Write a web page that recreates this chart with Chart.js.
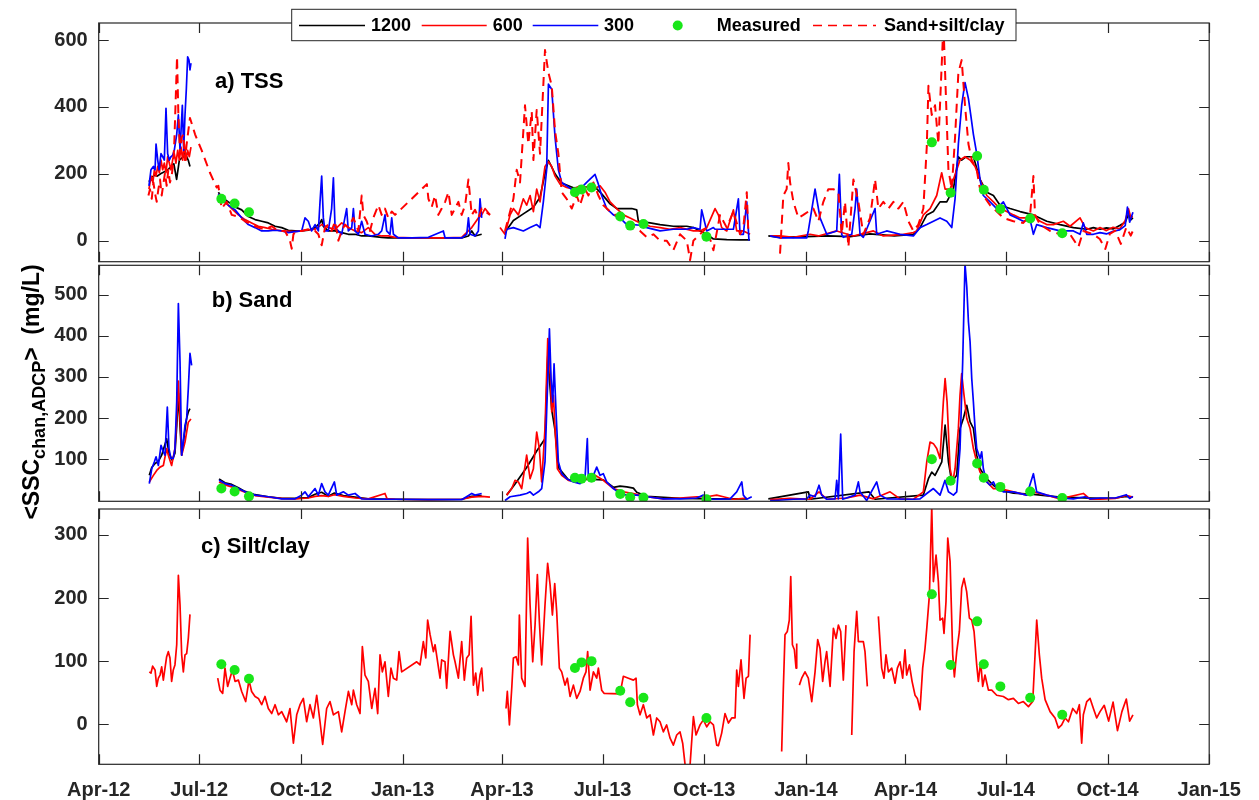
<!DOCTYPE html>
<html>
<head>
<meta charset="utf-8">
<script src="https://cdn.jsdelivr.net/npm/chart.js@4.4.0/dist/chart.umd.min.js"></script>
<style>
  html, body { margin: 0; padding: 0; background: #fff; }
  #wrap { position: relative; width: 1259px; height: 800px; }
  #wrap canvas { position: absolute; left: 0; top: 0; }
</style>
</head>
<body>
<div id="wrap">
  <canvas id="cA" width="1259" height="800"></canvas>
  <canvas id="cB" width="1259" height="800"></canvas>
  <canvas id="cC" width="1259" height="800"></canvas>
</div>
<script>
// ─── Config ───────────────────────────────────────────────────────────────────

const W = 1259;
const H = 800;
const PLOT_LEFT  = 98.7;
const PLOT_RIGHT = 1209.2;
const FONT       = "'Liberation Sans', Arial, sans-serif";
const AXIS_COLOR = "#262626";
const TICK_LEN   = 10;

const C_1200 = "#000000";
const C_600  = "#ff0000";
const C_300  = "#0000ff";
const C_MEAS = "#19e619";

// ─── Data (x = days since 1 Apr 2012, null = no data) ────────────────────────

const xTickDays   = [0, 91, 183, 275, 365, 456, 548, 640, 730, 821, 913, 1005];
const xTickLabels = ["Apr-12", "Jul-12", "Oct-12", "Jan-13", "Apr-13", "Jul-13",
                     "Oct-13", "Jan-14", "Apr-14", "Jul-14", "Oct-14", "Jan-15"];

const legendLabels = ["1200", "600", "300", "Measured", "Sand+silt/clay"];

const measuredDays = [111, 123, 136, 431, 437, 446, 472, 481, 493, 550, 754, 771, 795, 801, 816, 843, 872];
const measuredTss  = [125, 111, 85, 145, 153, 159, 72, 45, 50, 12, 294, 143, 253, 152, 95, 66, 22];
const measuredSand = [29, 22, 10, 55, 53, 55, 16, 8, 7, 3, 100, 48, 90, 55, 33, 22, 6];
const measuredSilt = [95, 86, 72, 89, 98, 100, 53, 35, 42, 10, 206, 94, 163, 95, 60, 42, 15];

const tss1200 = [
  [45.5,176],[48,190],[51,196],[53,193],[56,200],[59,205],[62,210],[65,220],[68,230],[70.5,183],[73,241],
  [76.6,251],[78,270],[79.5,251],[81,241],[82.6,222],
  [95,null],
  [108.3,145],[111.3,130],[117.3,116],[123.4,101],[129.4,92],[135.4,72],[141.5,63],[147.5,58],[153.5,53],
  [159.6,43],[165.6,39],[171.6,31],[177.7,29],[183.7,29],[189.7,31],[195.8,39],[200.3,53],[201.8,63],
  [203.3,43],[207.8,29],[213.9,29],[219.9,24],[225.9,19],[232,19],[238,14],[244,14],[250,12],[256,10],
  [262,8],[280,8],[298,8],[316,8],[328.5,8],[334.6,14],[337.6,29],[340.6,14],[346.6,19],
  [355,null],
  [367.7,25],[375.3,60],[384.3,80],[393.4,100],[399.4,130],[403.9,200],[407,240],[413,200],[419,172],
  [429.6,158],[441.6,160],[449.2,160],[455.2,140],[462.8,110],[468.8,96],[474.8,96],[482.4,96],[486.9,92],
  [488.4,58],[499,53],[508,48],[520,43],[532.2,43],[538.2,39],[544.2,29],[550.3,19],[556.3,5],[568.4,3],
  [580.4,2],[589.5,2],
  [598,null],
  [606,14],[616.6,10],[640,12],[660,14],[680,12],[698,20],[720,14],[737.3,19],[743.3,39],[749.4,77],
  [755.4,87],[761.4,116],[767.5,116],[773.5,154],[778,251],[781,241],[785,251],[791.6,251],[797.6,183],
  [803.7,145],[809.7,135],[815.7,106],[824.8,96],[833.8,87],[845.9,77],[858,58],[870,48],[882.1,39],
  [894.2,34],[900.2,39],[906.2,34],[912,38],[918,35],[924,45],[929,55],[932,80],[934,62],[936,68],
];

const tss600 = [
  [45.5,154],[47.4,193],[49,174],[50.4,212],[51.9,193],[53.4,222],[54.9,203],[56.4,241],[57.9,212],
  [59.4,232],[60.9,203],[62.4,251],[63.9,232],[65.4,212],[66.9,241],[68.4,260],[69.9,232],[71.5,270],
  [73,241],[74.5,280],[76,241],[77.5,289],[79,241],[80.5,270],[82,251],[83.5,280],
  [95,null],
  [108.3,140],[114.3,116],[120.4,96],[126.4,77],[132.4,63],[138.4,53],[144.5,43],[150.5,39],[156.6,34],
  [165.6,29],[177.7,27],[186.7,31],[195.8,34],[201.8,48],[207.8,39],[213.9,34],[219.9,53],[225.9,39],
  [232,29],[238,24],[244,39],[250,19],[256.1,14],[262.1,14],[268.2,10],[283.3,8],[298.4,8],[313.5,8],
  [328.5,10],[337.6,39],[343.6,68],[346.6,77],[349.6,96],[354.1,77],
  [358,null],
  [363.2,39],[367.7,19],[372.3,77],[375.3,96],[379.8,77],[384.3,125],[387.3,106],[390.4,135],[393.4,87],
  [396.4,154],[399.4,116],[403.9,222],[407,236],[410,222],[413,193],[417.5,169],[423.5,159],[429.6,154],
  [435.6,164],[441.6,159],[447.7,154],[453.7,164],[458.2,145],[462.8,116],[468.8,96],[474.8,77],
  [480.9,68],[489.9,53],[499,43],[508,39],[517,34],[526.1,39],[538.2,29],[544.2,29],[550.3,39],
  [557.8,96],[560.8,77],[563.8,39],[568.4,29],[574.4,92],[577.4,29],[583.4,29],[589.5,19],
  [598,null],
  [607.6,14],[616.6,14],[628.7,10],[643.8,19],[651.3,14],[667.9,29],[683,14],[701.1,29],[710.1,14],
  [728.2,19],[737.3,24],[740.3,29],[746.3,77],[752.4,96],[758.4,135],[762.9,203],[766,154],[770.5,154],
  [776.5,212],[779.5,241],[784,251],[788.6,241],[793.1,222],[797.6,183],[803.7,135],[809.7,116],
  [815.7,96],[821.8,87],[827.8,77],[833.8,68],[839.9,68],[845.9,77],[851.9,58],[858,48],[864,48],
  [873,58],[879.1,43],[888.1,68],[892.7,39],[900.2,29],[906.2,39],[912,30],[918,40],[924,35],[929,60],
  [932,95],[934,70],[936,72],
];

const tss300 = [
  [45.5,164],[47.3,212],[49.5,222],[51,212],[51.9,289],[53.4,241],[54.6,212],[56.4,260],[57.9,251],
  [59.4,241],[60.9,396],[62.4,260],[63.9,241],[65.4,251],[66.9,255],[68.4,270],[70.6,318],[72.1,376],
  [73.6,270],[74.5,328],[75.7,405],[76.9,270],[78.1,376],[79.3,453],[80.5,550],[81.7,540],[82.6,511],
  [83.5,531],
  [95,null],
  [108.3,140],[111.3,125],[117.3,106],[123.4,92],[129.4,68],[135.4,48],[141.5,39],[147.5,29],[153.5,29],
  [159.6,31],[165.6,29],[171.6,24],[177.7,27],[183.7,29],[186.7,68],[189.7,58],[192.7,29],[195.8,48],
  [198.8,29],[200.3,116],[201.8,193],[203.3,68],[204.8,29],[207.8,29],[210.8,96],[212.4,188],[213.9,39],
  [216.9,29],[219.9,19],[224.4,96],[225.9,29],[229,39],[230.5,96],[232,29],[235,19],[238,58],[241,19],
  [247,14],[253,19],[256.1,29],[259.1,77],[260.6,29],[263.6,19],[265.2,68],[266.7,19],[271.2,8],
  [283.3,8],[298.4,10],[311.9,29],[313.5,8],[328.5,8],[333.1,19],[334.6,68],[336.1,19],[340.6,14],
  [343.6,29],[345.1,125],[346.6,68],
  [355,null],
  [367.7,5],[369.2,34],[375.3,39],[384.3,29],[390.4,39],[396.4,48],[399.4,39],[402.4,116],[405.4,212],
  [407,468],[410,453],[413,309],[416,212],[419,174],[423.5,164],[429.6,150],[435.6,154],[441.6,174],
  [449.2,198],[452.2,169],[455.2,135],[459.7,96],[465.8,77],[471.8,68],[477.9,48],[483.9,48],[489.9,46],
  [496,39],[508,29],[520,34],[532.2,34],[538.2,39],[544.2,34],[545.7,92],[550.3,29],[556.3,39],
  [557.8,34],[574.4,34],[578.9,125],[580.4,19],[583.4,19],[586.5,116],[588.5,0],
  [598,null],
  [607.6,14],[616.6,8],[640.7,8],[642.2,29],[648.3,154],[652.8,68],[658.9,19],[667.9,29],[670.3,198],
  [672.4,19],[673.9,10],[681.5,19],[684.5,96],[686,154],[689,19],[692,10],[702.6,96],[704.1,19],
  [713.1,29],[725.2,19],[737.3,14],[743.3,39],[749.4,48],[755.4,58],[761.4,68],[767.5,58],[772,39],
  [775,125],[778,289],[781,405],[783.1,453],[784,473],[787.1,425],[789.2,376],[791.6,318],[794.6,260],
  [797.6,183],[800.6,135],[806.7,116],[812.7,96],[818.7,116],[824.8,77],[830.8,68],[836.8,58],
  [842.9,63],[845.9,19],[848.9,48],[858,39],[870,29],[882.1,29],[888.1,19],[891.1,53],[894.2,19],
  [900.2,19],[906.2,24],[912,20],[918,28],[924,32],[929,45],[931,100],[933,55],[936,85],
];

const tssSum = [
  [45,135],[46.4,154],[48,125],[49.5,174],[51,141],[52.5,116],[54,154],[55.5,183],[57,135],[58.5,169],
  [60,203],[61.5,164],[63,212],[64.5,174],[66,193],[67.5,232],[68.5,300],[70.9,550],[72.1,376],
  [73.6,260],[75.1,309],[76.6,318],[78.1,241],[79.6,289],[81.1,328],[82.6,367],[87.2,318],[93.2,270],
  [100.7,203],[106.8,159],
  [108.3,164],[111.3,96],[115.8,116],[120.4,77],[126.4,72],[132.4,58],[138.4,48],[144.5,39],[150.5,34],
  [156.6,43],[162.6,29],[168.6,29],[173.1,0],[174.7,-24],[176.2,19],[179.2,29],[183.7,29],[189.7,34],
  [195.8,29],[198.8,19],[201.8,-14],[204.8,39],[207.8,48],[210.8,29],[213.9,58],[216.9,0],[219.9,29],
  [222.9,48],[225.9,39],[230.5,68],[235,29],[238,135],[239.5,77],[242.5,58],[245.5,29],[248.5,68],
  [253.1,106],[256.1,77],[259.1,96],[262.1,68],[265.2,87],[268.2,77],[297,169],[298.4,125],[301.4,101],
  [304.4,135],[307.4,77],[310.4,96],[313.5,116],[316.5,145],[319.5,77],[322.5,96],[325.5,116],[328.5,77],
  [331.6,106],[334.6,183],[337.6,77],[340.6,92],[343.6,68],[346.6,96],[354.1,77],
  [358,null],
  [367.7,29],[372.3,87],[375.3,125],[378.3,212],[381.3,174],[385.8,405],[388.8,289],[391.9,386],
  [393.4,241],[396.4,391],[399.4,260],[403.9,570],[407,502],[410,463],[413,328],[416,260],[419,145],
  [423.5,125],[428.1,96],[432.6,135],[435.6,106],[440.1,154],[443.2,135],[447.7,174],[452.2,135],
  [456.7,106],[462.8,87],[471.8,68],[480.9,48],[489.9,29],[496,10],[502,19],[508,0],[514,0],[520,-29],
  [526.1,19],[532.2,0],[535.2,-58],[538.2,0],[544.2,19],[550.3,39],[556.3,-29],[562.3,77],[568.4,39],
  [574.4,87],[580.4,19],[583.4,39],[586.5,145],[588,19],
  [600,null],
  [616.6,-39],[619.6,135],[622.6,154],[624.1,232],[625.7,174],[628.7,116],[633.2,68],[637.7,77],
  [642.2,87],[646.8,96],[651.3,58],[655.8,116],[660.3,154],[664.9,154],[669.4,145],[672.4,19],
  [675.4,116],[678.5,-19],[683,183],[687.5,116],[692,19],[698.1,68],[702.6,183],[705.6,96],[710.1,116],
  [714.7,96],[719.2,116],[723.7,96],[728.2,116],[732.8,58],[737.3,29],[741.8,48],[746.3,96],[749.4,280],
  [750.9,463],[753.9,376],[756.9,405],[759.9,289],[764.5,650],[767,405],[769,212],[772,154],[775,309],
  [778,502],[781,540],[784,405],[787.1,289],[790.1,241],[794.6,212],[797.6,154],[800.6,135],[806.7,106],
  [812.7,87],[818.7,68],[827.8,58],[836.8,53],[842.9,77],[845.9,193],[847.4,77],[851.9,48],[861,29],
  [870,19],[879.1,19],[886.6,-19],[891.1,29],[900.2,19],[906,5],[911,-25],[915,20],[920,30],[925,-10],
  [930,40],[934,15],[936,30],
];

const sand1200 = [
  [45.8,61],[48,80],[51,90],[54,95],[57,110],[61.5,150],[63.6,115],[66.5,98],[69,115],[70.6,180],
  [72.1,260],[73.6,180],[75.1,110],[77.5,160],[79.6,200],[81.1,215],[82.6,223],
  [95,null],
  [108.9,52],[114.3,43],[120.4,39],[126.4,31],[132.4,22],[141.5,14],[153.5,9],[165.6,5],[177.7,5],
  [189.7,7],[195.8,15],[201.8,20],[207.8,10],[213.3,18],[221.4,12],[232,8],[244,4],[268.2,3],[298.4,2],
  [328.5,3],[337.6,10],[346.6,12],
  [355,null],
  [369.2,13],[376.8,40],[387.3,80],[396.4,120],[403.9,150],[406.4,350],[410,220],[413,170],[416,80],
  [425.1,50],[441.6,52],[456.7,50],[465.8,32],[471.8,35],[477.9,33],[483.9,30],[486.9,20],[496,10],
  [526.1,5],[556.3,4],[586.5,4],
  [598,null],
  [606,4],[642.2,21],[644,3],[697,21],[702.6,3],[746.3,13],[750.9,53],[753.9,69],[756.9,61],[759.9,77],
  [763,94],[766,183],[769,94],[772,45],[776.5,61],[779.5,175],[782.5,199],[785.6,231],[788.6,191],
  [791.6,175],[794.6,110],[797.6,77],[803.7,53],[809.7,37],[815.7,25],[827.8,18],[845.9,15],[870,8],
  [906.2,5],[920,6],[930,10],[936,8],
];

const sand600 = [
  [45.8,45],[49.5,61],[52.5,73],[55.5,81],[58.5,85],[61.5,126],[63,110],[66,85],[69,126],[70.6,200],
  [72.1,290],[73.6,200],[75.1,110],[78.1,142],[81.1,190],[83.5,198],
  [95,null],
  [108.9,45],[114.3,38],[120.4,33],[126.4,27],[132.4,20],[141.5,12],[153.5,8],[165.6,5],[177.7,4],
  [189.7,6],[195.8,10],[201.8,12],[207.8,10],[213.3,14],[221.4,10],[232,6],[244,4],[259.1,17],[261,4],
  [268.2,3],[298.4,2],[328.5,3],[337.6,8],[346.6,10],[354.1,8],
  [358,null],
  [369.2,13],[373.8,29],[376.8,49],[379.8,45],[382.8,29],[387.3,110],[390.4,53],[393.4,77],[396.4,166],
  [398.8,126],[400.9,45],[403.9,175],[406.4,393],[408.5,320],[410,215],[411.5,255],[413,175],[415.1,77],
  [419,61],[425.1,49],[432.6,45],[441.6,53],[449.2,61],[456.7,49],[465.8,29],[474.8,21],[483.9,17],
  [496,9],[511,4],[526.1,6],[541.2,9],[550.3,9],[559.3,13],[565.3,9],[574.4,3],[586.5,6],
  [598,null],
  [607.6,2],[625.7,5],[643.8,3],[651.9,21],[658.9,3],[677,6],[689,13],[701.1,4],[716.2,21],[725.2,4],
  [737.3,3],[746.3,21],[749.4,94],[752.4,142],[755.4,138],[758.4,126],[761.4,102],[764.4,239],[766,296],
  [767.8,239],[770.5,77],[772.9,45],[775,77],[778,175],[779.5,256],[781,308],[783.1,256],[785.6,199],
  [788.6,175],[791.6,126],[794.6,94],[797.6,69],[803.7,45],[809.7,29],[815.7,29],[827.8,21],[839.9,13],
  [845.9,21],[858,13],[870,4],[891.1,17],[897.2,3],[906.2,3],[920,5],[930,12],[936,8],
];

const sand300 = [
  [45.8,41],[48,77],[50.4,94],[51.9,106],[54,85],[56.4,134],[58.5,118],[60,110],[62.1,227],[63.6,126],
  [65.4,102],[67.5,102],[69,126],[70.6,239],[72.1,478],[73.6,336],[75.1,110],[76.6,142],[78.1,183],
  [79.6,199],[81.1,272],[82.6,357],[84.1,328],
  [95,null],
  [108.9,49],[114.3,41],[120.4,37],[126.4,29],[132.4,21],[141.5,13],[153.5,9],[165.6,4],[177.7,4],
  [183.7,13],[186.7,21],[189.7,9],[195.8,29],[198.8,13],[201.8,41],[204.8,21],[207.8,13],[213.3,45],
  [215.4,13],[221.4,21],[225.9,13],[232,17],[238,4],[253.1,3],[268.2,3],[298.4,2],[328.5,2],[337.6,17],
  [340.6,13],[346.6,17],
  [355,null],
  [367.7,0],[372.3,9],[381.3,13],[387.3,17],[390.4,21],[393.4,13],[397.9,21],[400.9,29],[403.9,94],
  [405.4,215],[407,336],[407.9,417],[409.4,296],[410.9,239],[412.1,332],[413.9,215],[416,94],[419,65],
  [423.5,53],[429.6,45],[435.6,41],[440.1,53],[442.2,150],[443.2,53],[447.7,61],[450.7,81],[453.7,61],
  [456.7,65],[459.7,45],[465.8,29],[471.8,17],[477.9,13],[486.9,13],[496,9],[511,4],[526.1,4],
  [541.2,6],[547.2,13],[550.3,4],[556.3,3],[571.4,4],[577.4,21],[582,45],[583.4,13],[586.5,3],[591,9],
  [598,null],
  [607.6,0],[612.1,0],[628.7,3],[640.7,4],[643.8,13],[648.3,9],[651.9,37],[654.3,13],[658.9,3],
  [666.4,4],[667.9,49],[669.4,4],[671.5,161],[673.3,3],[684.5,13],[687.5,45],[689,21],[695,0],
  [704.1,45],[707.1,13],[713.1,4],[737.3,3],[743.3,4],[749.4,17],[755.4,29],[758.4,21],[761.4,13],
  [765.9,49],[769,21],[773.5,13],[776.5,21],[779.5,126],[781.9,336],[784,575],[785.6,519],[787.1,434],
  [788.6,385],[790.1,296],[791.6,239],[793.1,175],[794.6,126],[797.6,102],[799.1,118],[800.6,77],
  [803.7,45],[806.7,37],[809.7,45],[812.7,29],[818.7,21],[827.8,21],[839.9,13],[845.9,65],[848.9,21],
  [858,13],[870,6],[882.1,4],[892.7,9],[897.2,4],[906.2,6],[920,6],[930,14],[933,5],[936,10],
];

const silt600 = [
  [45.8,83],[47.3,81],[48.8,92],[51,86],[52.5,60],[54,73],[55.5,78],[57,91],[58.5,70],[60,89],[61.5,107],
  [63,115],[64.5,105],[66,68],[67.5,86],[69,94],[70.6,126],[72.1,236],[73.6,189],[75.1,110],[76.6,83],
  [78.1,110],[79.6,112],[81.1,136],[82.6,174],
  [95,null],
  [107.7,73],[109.8,54],[112.2,49],[114.3,89],[116.7,60],[118.8,73],[121,86],[123.4,68],[126.4,70],
  [129.4,52],[133,36],[136,70],[138.4,52],[141.5,44],[144.5,41],[147.5,31],[150.5,44],[153.5,25],
  [156.6,17],[159.6,31],[162.6,15],[165.6,20],[170.1,4],[173.1,25],[176.2,-30],[179.2,15],[182.2,31],
  [185.2,41],[188.2,4],[191.2,31],[194.3,10],[197.3,46],[200.3,4],[202.7,-32],[206.3,25],[209.3,36],
  [212.4,15],[216.9,20],[219.9,-12],[222.9,20],[226,52],[229,31],[230.5,54],[233.5,31],[236.5,17],
  [238.6,123],[241,78],[244,68],[247.1,25],[250.1,57],[252.5,17],[254.6,110],[256.7,83],[259.1,99],
  [262.1,44],[264.5,89],[266.7,73],[269.7,70],[271.8,115],[274.2,83],[287.8,99],[290.8,94],[293.8,131],
  [296,105],[297.7,165],[299.9,142],[302.9,115],[304.4,126],[308.9,73],[310.4,102],[313.4,99],[314.9,57],
  [318,147],[321,110],[322.5,99],[325.5,73],[328.5,131],[330.9,70],[333,105],[335.2,110],[337,171],
  [339.1,62],[341.2,81],[343,46],[345.1,78],[346.6,89],[348,52],
  [358,null],
  [368.6,25],[369.8,52],[371.7,-1],[373.8,57],[375.3,105],[377.7,107],[379.8,94],[380.7,173],[382.8,73],
  [385.8,60],[388.2,295],[390.4,189],[392.8,99],[394.9,157],[397,237],[398.8,163],[400.9,94],[403.9,189],
  [406.3,255],[408.5,221],[410.6,173],[412.7,223],[414.5,178],[416.9,89],[419,83],[422,62],[424.1,73],
  [426.6,44],[429.6,62],[432.6,41],[435.6,52],[438.6,73],[441,83],[442.5,115],[444.7,54],[447.7,83],
  [450.7,73],[452.2,89],[455.2,54],[457.3,49],[471.8,48],[474.8,76],[479.4,73],[483.9,70],[486.3,73],
  [487.5,31],[489.9,15],[492.9,31],[496,10],[499,15],[502,-17],[505,10],[508,4],[511,-12],[514,-1],
  [517.1,-22],[520.1,-33],[523.1,-17],[526.1,-12],[528.5,-30],[532,-85],[535.2,-64],[538.2,12],
  [540.6,-17],[544.2,-1],[547.2,7],[550.3,-4],[553.3,4],[556.3,-1],[559.3,-33],[560.8,-34],[563.8,-14],
  [566.8,17],[569.9,2],[572.9,10],[575.9,10],[577.4,86],[578.9,60],[581.3,102],[584,41],[585.9,73],
  [588,76],[589.5,142],
  [600,null],
  [618.1,-43],[619.6,57],[621.1,142],[623.2,147],[625,165],[626.3,234],[627.8,126],[629.6,118],[631.1,89],
  [631.7,128],[632.9,null],[634.1,62],[636.2,73],[639.2,83],[642.2,73],[645.3,36],[648.3,83],[650.7,134],
  [652.8,120],[655.2,68],[657.3,99],[658.8,115],[661.9,60],[664.9,152],[667.3,136],[669.4,157],
  [671.5,147],[673.9,70],[676.3,157],[679,null],[681.5,-17],[683.6,115],[686,179],[687.5,131],[689.9,131],
  [692,131],[693.5,115],[695.6,60],[700,null],[705.6,171],[708.6,89],[710.7,73],[712.5,110],[714.7,83],
  [717.7,89],[720.7,65],[722.8,89],[725.2,99],[727.6,73],[729.7,118],[731.2,78],[733.7,94],[736.1,68],
  [738.8,46],[740.9,41],[743.3,23],[745.7,89],[747.8,120],[749.4,152],[751.8,205],[753.9,345],[755.4,226],
  [757.8,268],[759.9,226],[761.4,165],[763.8,168],[765,144],[766.8,194],[768.4,295],[770.5,258],
  [772.9,110],[774.4,75],[776.5,115],[778.9,147],[781,216],[783.1,231],[785.5,210],[788,168],[790.1,165],
  [792.2,147],[794.6,94],[796.1,68],[798.2,99],[800,60],[802.1,78],[805.2,54],[808.2,54],[812.7,46],
  [818.7,44],[823.3,39],[827.8,41],[832.3,33],[836.8,36],[841.4,28],[845.3,36],[847.4,110],[848.9,165],
  [851.3,110],[853.4,73],[856.5,39],[861,20],[865.5,10],[868.5,-6],[871.5,-1],[874.6,10],[877.6,4],
  [881.5,25],[885.1,17],[887.5,31],[889.6,-30],[891.1,15],[894.2,36],[897.2,41],[900.2,25],[903.2,10],
  [906.2,20],[910,30],[914,5],[918,35],[922,-10],[926,20],[930,40],[933,5],[936,15],
];

// ─── Helpers ──────────────────────────────────────────────────────────────────

const toXY = (pairs) => pairs.map(([x, y]) => ({ x, y }));

function lineSet(label, pairs, color, order, extra = {}) {
  return {
    label,
    data: toXY(pairs),
    borderColor: color,
    borderWidth: 1.7,
    pointRadius: 0,
    tension: 0,
    spanGaps: false,
    borderJoinStyle: "round",
    clip: 0,
    order,
    ...extra,
  };
}

function measuredSet(values) {
  return {
    label: "Measured",
    data: measuredDays.map((x, i) => ({ x, y: values[i] })),
    showLine: false,
    pointRadius: 5,
    pointBorderWidth: 0,
    pointBackgroundColor: C_MEAS,
    borderColor: C_MEAS,
    order: 0,
  };
}

function drawLegend(ctx) {
  const box = { x: 291.7, y: 9.3, w: 724.3, h: 31.4 };
  const cy = box.y + box.h / 2 + 0.5;
  ctx.save();
  ctx.fillStyle = "#fff";
  ctx.fillRect(box.x, box.y, box.w, box.h);
  ctx.strokeStyle = AXIS_COLOR;
  ctx.lineWidth = 1;
  ctx.strokeRect(box.x, box.y, box.w, box.h);

  const samples = [
    { x0: 299, x1: 365, color: C_1200, dash: [] },
    { x0: 421.7, x1: 486.7, color: C_600, dash: [] },
    { x0: 532.7, x1: 598.3, color: C_300, dash: [] },
    null,
    { x0: 813, x1: 876, color: C_600, dash: [9, 6] },
  ];
  const textX = [371, 492.7, 604, 716.7, 884];

  samples.forEach((s, i) => {
    if (s) {
      ctx.beginPath();
      ctx.setLineDash(s.dash);
      ctx.strokeStyle = s.color;
      ctx.lineWidth = 1.7;
      ctx.moveTo(s.x0, cy);
      ctx.lineTo(s.x1, cy);
      ctx.stroke();
    } else {
      ctx.beginPath();
      ctx.fillStyle = C_MEAS;
      ctx.arc(677.7, cy, 5, 0, Math.PI * 2);
      ctx.fill();
    }
    ctx.setLineDash([]);
    ctx.fillStyle = "#000";
    ctx.font = `bold 18px ${FONT}`;
    ctx.textBaseline = "middle";
    ctx.textAlign = "left";
    ctx.fillText(legendLabels[i], textX[i], cy + 1);
  });
  ctx.restore();
}

function drawYTitle(ctx) {
  const parts = [
    { text: "<SSC",      size: 23, dy: 0 },
    { text: "chan,ADCP", size: 18, dy: 6 },
    { text: ">  ",       size: 23, dy: 0 },
    { text: "(mg/L)",    size: 23, dy: 0 },
  ];
  ctx.save();
  ctx.translate(39, 392);
  ctx.rotate(-Math.PI / 2);
  ctx.fillStyle = "#000";
  ctx.textBaseline = "alphabetic";
  ctx.textAlign = "left";
  let total = 0;
  for (const p of parts) {
    ctx.font = `bold ${p.size}px ${FONT}`;
    p.w = ctx.measureText(p.text).width;
    total += p.w;
  }
  let x = -total / 2;
  for (const p of parts) {
    ctx.font = `bold ${p.size}px ${FONT}`;
    ctx.fillText(p.text, x, p.dy);
    x += p.w;
  }
  ctx.restore();
}

// frame with inward ticks on all four sides, plus the panel label
const framePlugin = {
  id: "frame",
  afterDatasetsDraw(chart, _args, opts) {
    const { ctx, chartArea: a, scales: { x, y } } = chart;
    ctx.save();
    ctx.strokeStyle = AXIS_COLOR;
    ctx.lineWidth = 1.2;
    ctx.strokeRect(a.left, a.top, a.right - a.left, a.bottom - a.top);
    ctx.beginPath();
    for (const d of xTickDays) {
      const px = Math.round(x.getPixelForValue(d)) + 0.5;
      ctx.moveTo(px, a.bottom); ctx.lineTo(px, a.bottom - TICK_LEN);
      ctx.moveTo(px, a.top);    ctx.lineTo(px, a.top + TICK_LEN);
    }
    for (const t of y.ticks) {
      const py = Math.round(y.getPixelForValue(t.value)) + 0.5;
      ctx.moveTo(a.left, py);  ctx.lineTo(a.left + TICK_LEN, py);
      ctx.moveTo(a.right, py); ctx.lineTo(a.right - TICK_LEN, py);
    }
    ctx.stroke();

    ctx.fillStyle = "#000";
    ctx.font = `bold 22px ${FONT}`;
    ctx.textBaseline = "alphabetic";
    ctx.fillText(opts.title, opts.titleX, opts.titleY);
    ctx.restore();
  },
  afterDraw(chart, _args, opts) {
    if (opts.legend) drawLegend(chart.ctx);
    if (opts.yTitle) drawYTitle(chart.ctx);
  },
};

// ─── Panels ───────────────────────────────────────────────────────────────────

function makePanel(canvasId, cfg) {
  const tickFont = { family: FONT, size: 20, weight: "bold" };
  const showX = !!cfg.showX;
  new Chart(document.getElementById(canvasId), {
    type: "line",
    data: { datasets: cfg.datasets },
    options: {
      responsive: false,
      animation: false,
      devicePixelRatio: 1,
      events: [],
      layout: {
        padding: { left: 0, right: W - PLOT_RIGHT, top: cfg.top, bottom: showX ? 0 : H - cfg.bottom },
      },
      plugins: {
        legend: { display: false },
        tooltip: { enabled: false },
        frame: { title: cfg.title, titleX: cfg.titleX, titleY: cfg.titleY, legend: cfg.legend, yTitle: cfg.yTitle },
      },
      scales: {
        x: {
          type: "linear",
          min: 0,
          max: 1005,
          display: showX,
          grid: { display: false, drawTicks: false },
          border: { display: false },
          afterBuildTicks: (s) => { s.ticks = xTickDays.map((value) => ({ value })); },
          afterFit: (s) => { if (showX) s.height = H - cfg.bottom; },
          ticks: {
            autoSkip: false,
            maxRotation: 0,
            padding: 14,
            color: AXIS_COLOR,
            font: tickFont,
            callback: (_v, i) => xTickLabels[i],
          },
        },
        y: {
          type: "linear",
          min: cfg.yMin,
          max: cfg.yMax,
          grid: { display: false, drawTicks: false },
          border: { display: false },
          afterBuildTicks: (s) => { s.ticks = cfg.yTicks.map((value) => ({ value })); },
          afterFit: (s) => { s.width = PLOT_LEFT; },
          ticks: { padding: 11, color: AXIS_COLOR, font: tickFont, callback: (v) => String(v) },
        },
      },
    },
    plugins: [framePlugin],
  });
}

makePanel("cA", {
  top: 15, bottom: 261.7, yMin: -63, yMax: 651, yTicks: [0, 200, 400, 600],
  title: "a) TSS", titleX: 215, titleY: 88.3, legend: true,
  datasets: [
    lineSet("1200", tss1200, C_1200, 5),
    lineSet("600", tss600, C_600, 4),
    lineSet("300", tss300, C_300, 3),
    measuredSet(measuredTss),
    lineSet("Sand+silt/clay", tssSum, C_600, 1, { borderDash: [9, 6], borderWidth: 2 }),
  ],
});

makePanel("cB", {
  top: 265.3, bottom: 501.3, yMin: -2, yMax: 571, yTicks: [100, 200, 300, 400, 500],
  title: "b) Sand", titleX: 211.7, titleY: 307, yTitle: true,
  datasets: [
    lineSet("1200", sand1200, C_1200, 5),
    lineSet("600", sand600, C_600, 4),
    lineSet("300", sand300, C_300, 3),
    measuredSet(measuredSand),
  ],
});

makePanel("cC", {
  top: 509, bottom: 764.3, yMin: -63.4, yMax: 341, yTicks: [0, 100, 200, 300], showX: true,
  title: "c) Silt/clay", titleX: 201, titleY: 553.3,
  datasets: [
    lineSet("600", silt600, C_600, 4),
    measuredSet(measuredSilt),
  ],
});
</script>
</body>
</html>
